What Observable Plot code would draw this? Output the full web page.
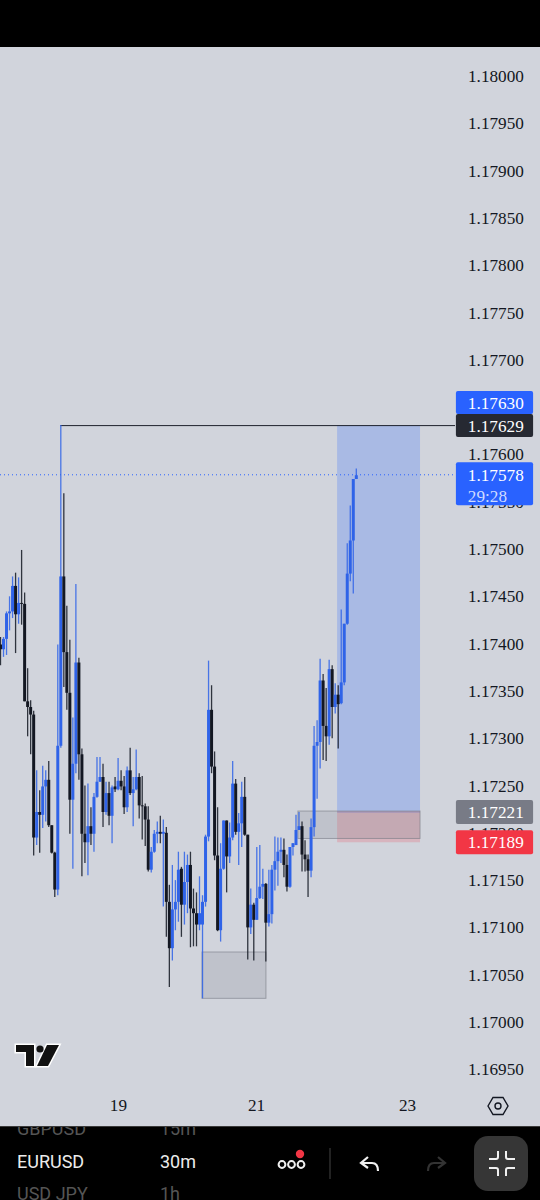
<!DOCTYPE html>
<html>
<head>
<meta charset="utf-8">
<script src="https://cdn.jsdelivr.net/npm/d3@7"></script>
<script src="https://cdn.jsdelivr.net/npm/@observablehq/plot@0.6"></script>
<style>
html,body{margin:0;padding:0;background:#000;width:540px;height:1200px;overflow:hidden}
#head{height:47px;background:#000}
#wrap{position:relative;width:540px;height:1079px;background:#d1d4dc}
#wrap svg{display:block}
#logo{position:absolute;left:12px;top:994px}
#gear{position:absolute;left:486px;top:1047px}
#foot{position:relative;height:74px;background:#000;overflow:hidden;font-family:Roboto,sans-serif;border-top:1px solid #3a3a3a;box-sizing:border-box}
#foot .t{position:absolute;white-space:nowrap;line-height:20px}
#foot svg{position:absolute;left:0;top:0}
</style>
</head>
<body>
<div id="head"></div>
<div id="wrap">
<div id="chart"></div>
<svg id="logo" width="52" height="32" viewBox="0 0 52 32"><g fill="#111" stroke="#fff" stroke-width="3" paint-order="stroke" stroke-linejoin="miter"><path d="M4 4H22V25H14V11H4Z"/><path d="M35 4H47L36 25H25Z"/></g><circle cx="28" cy="8" r="3.6" fill="#111"/></svg>
<svg id="gear" width="24" height="24" viewBox="0 0 24 24" fill="none" stroke="#131722" stroke-width="1.4"><path d="M2 12L7 3.5H17L22 12L17 20.5H7Z"/><circle cx="12" cy="12" r="3"/></svg>
</div>
<div id="foot">
<div class="t" style="left:17px;top:-8px;font-size:18px;color:#555">GBPUSD</div>
<div class="t" style="left:160px;top:-8px;font-size:18px;color:#555">15m</div>
<div class="t" style="left:17px;top:25px;font-size:18px;color:#ececec">EURUSD</div>
<div class="t" style="left:160px;top:25px;font-size:18px;color:#ececec">30m</div>
<div class="t" style="left:17px;top:57px;font-size:18px;color:#555">USD JPY</div>
<div class="t" style="left:160px;top:57px;font-size:18px;color:#555">1h</div>
<svg width="540" height="74" viewBox="0 1126 540 74" fill="none">
<g stroke="#f0f0f0" stroke-width="2"><circle cx="282" cy="1163.5" r="3.4"/><circle cx="291.5" cy="1163.5" r="3.4"/><circle cx="301" cy="1163.5" r="3.4"/></g>
<circle cx="300" cy="1153" r="4.2" fill="#f23645"/>
<path d="M330 1147V1178" stroke="#2e2e2e" stroke-width="1.5"/>
<path d="M368 1156L361 1162L368 1167M361 1162H372Q378 1162 378 1170" stroke="#f0f0f0" stroke-width="2.2"/>
<path d="M438 1156L445 1162L438 1167M445 1162H434Q428 1162 428 1170" stroke="#333" stroke-width="2.2"/>
<rect x="474" y="1135" width="54" height="55" rx="14" fill="#363636"/>
<g stroke="#f0f0f0" stroke-width="2"><path d="M498 1150V1156Q498 1158 496 1158H489"/><path d="M506 1150V1156Q506 1158 508 1158H515"/><path d="M498 1175V1169Q498 1167 496 1167H489"/><path d="M506 1175V1169Q506 1167 508 1167H515"/></g>
</svg>
</div>
<script>
// Prices as points above 1.17000 (1 point = 0.00001)
const opens = [
399,394,405,432,434,461,431,443,442,339,
333,325,195,222,219,249,256,208,179,140,
292,471,391,348,235,273,380,283,199,190,
207,199,238,254,259,222,242,218,249,246,
255,249,227,266,242,246,259,229,228,214,
161,180,199,201,199,200,127,78,119,127,
162,124,148,166,120,115,103,103,127,196,
330,270,176,97,162,213,175,195,252,201,
210,238,198,100,124,108,131,143,146,105,
114,161,170,180,182,166,143,185,187,203,
207,177,172,160,206,292,296,361,313,302,
373,333,346,337,359,421,474,509,574];
const highs = [
407,407,434,450,471,475,470,499,454,374,
340,329,266,245,271,266,276,208,180,399,
631,559,440,404,322,463,385,289,250,252,
227,242,280,280,273,254,254,250,259,279,
266,260,270,290,259,288,263,260,231,228,
185,203,212,218,214,206,145,166,150,180,
164,180,177,180,141,137,154,134,198,382,
356,286,227,189,213,213,211,276,257,221,
254,259,198,141,126,185,187,162,147,161,
166,196,195,195,194,177,185,189,219,222,
212,192,177,215,313,319,384,368,353,383,
377,358,356,436,421,506,546,574,585];
const lows = [
377,386,388,414,427,390,421,420,339,302,
283,176,187,179,205,212,206,178,132,134,
290,354,330,199,162,263,256,154,168,155,
187,180,237,254,206,219,208,189,243,245,
245,220,222,240,207,245,215,193,186,159,
158,179,189,189,122,90,37,65,97,106,
90,103,115,79,80,80,97,25,122,191,
263,171,96,85,161,137,168,192,198,166,
185,197,66,93,65,108,130,130,64,101,
104,139,144,168,153,138,142,176,187,203,
159,159,132,153,196,236,268,277,276,293,
300,326,289,336,356,420,466,453,574];
const closes = [
394,405,432,434,461,431,443,442,339,333,
325,195,222,219,249,256,208,179,140,292,
471,391,348,235,273,380,283,199,190,207,
199,238,254,259,222,242,218,248,246,255,
249,227,266,242,246,259,229,228,214,161,
180,199,201,199,201,127,78,119,127,161,
124,148,166,120,115,103,115,127,196,330,
270,176,97,162,213,175,195,252,201,210,
238,198,100,124,108,131,143,146,105,114,
161,170,180,182,166,143,185,189,203,207,
177,172,160,206,292,296,361,313,302,373,
333,346,336,359,421,474,509,574,578];

const priceTicks = [1.1695,1.17,1.1705,1.171,1.1715,1.172,1.1725,1.173,1.1735,1.174,1.1745,1.175,1.1755,1.176,1.1765,1.177,1.1775,1.178,1.1785,1.179,1.1795,1.18];
const dayTicks = [39.1,84.9,135];
const dayLabels = ["19","21","23"];

const lastPrice = 1.17579;
const levelPrice = 1.17631;
const levelStart = 20;

const zoneGrey1 = {x1:67,x2:88.2,y1:1.17025,y2:1.17074};
const zoneGrey2 = {x1:98.8,x2:139.3,y1:1.17194,y2:1.17223};
const zoneProfit = {x1:111.8,x2:139.3,y1:1.17221,y2:1.17631};
const zoneLoss = {x1:111.8,x2:139.3,y1:1.17190,y2:1.17223};

// Price tags on the scale: tag centre, half height, colour
const tags = [
 {c:1.176548,h:0.000122,fill:"#2962ff"},
 {c:1.176305,h:0.000122,fill:"#262932"},
 {c:1.175690,h:0.000228,fill:"#2962ff"},
 {c:1.172220,h:0.000127,fill:"#787b86"},
 {c:1.171900,h:0.000127,fill:"#f23645"}
];
const tagTexts = [
 {y:1.176548,text:"1.17630",fill:"#fff"},
 {y:1.176305,text:"1.17629",fill:"#fff"},
 {y:1.175780,text:"1.17578",fill:"#fff"},
 {y:1.175560,text:"29:28",fill:"#cfdcff"},
 {y:1.172220,text:"1.17221",fill:"#fff"},
 {y:1.171900,text:"1.17189",fill:"#fff"}
];

const BLUE="#2f63e8", BLACK="#131722", FONT="'Liberation Serif',serif", FS=17.2;
const candles = opens.map((o,i)=>({i,o:1.17+o/1e5,h:1.17+highs[i]/1e5,l:1.17+lows[i]/1e5,c:1.17+closes[i]/1e5,col:closes[i]>=o?BLUE:BLACK}));

const chart = Plot.plot({
  width:540,height:1079,marginLeft:0,marginRight:85,marginTop:0,marginBottom:36,
  x:{domain:[0,150.9]},
  y:{domain:[1.169281,1.180307]},
  color:{type:"identity"},
  style:{background:"#d1d4dc",fontFamily:FONT},
  marks:[
    Plot.rect([zoneProfit],{x1:"x1",x2:"x2",y1:"y1",y2:"y2",fill:"#2962ff",fillOpacity:0.23}),
    Plot.rect([zoneLoss],{x1:"x1",x2:"x2",y1:"y1",y2:"y2",fill:"#f23645",fillOpacity:0.2}),
    Plot.rect([zoneGrey1,zoneGrey2],{x1:"x1",x2:"x2",y1:"y1",y2:"y2",fill:"#787b86",fillOpacity:0.2,stroke:"#787b86",strokeOpacity:0.6,strokeWidth:1}),
    Plot.ruleY([lastPrice],{stroke:"#2962ff",strokeDasharray:"1 3",strokeWidth:1}),
    Plot.ruleY([levelPrice],{x1:levelStart,x2:150.9,stroke:"#1e222d",strokeWidth:1}),
    Plot.ruleX(candles,{x:"i",y1:"l",y2:"h",stroke:"col",strokeWidth:1.3,strokeOpacity:0.85}),
    Plot.ruleX(candles,{x:"i",y1:"o",y2:"c",stroke:"col",strokeWidth:3}),
    Plot.axisY({anchor:"right",ticks:priceTicks,tickFormat:d=>d.toFixed(5),tickSize:0,tickPadding:12.5,fontSize:FS,label:null,fill:"#131722"}),
    Plot.axisX({anchor:"bottom",ticks:dayTicks,tickFormat:d=>dayLabels[dayTicks.indexOf(d)],tickSize:0,tickPadding:8,fontSize:FS,label:null,fill:"#131722"}),
    Plot.rect(tags,{x1:()=>151.2,x2:()=>176.8,y1:d=>d.c-d.h,y2:d=>d.c+d.h,fill:"fill",rx:2}),
    Plot.text(tagTexts,{x:()=>155,y:"y",text:"text",fill:"fill",textAnchor:"start",fontSize:FS})
  ]
});
document.getElementById("chart").append(chart);
</script>
</body>
</html>
